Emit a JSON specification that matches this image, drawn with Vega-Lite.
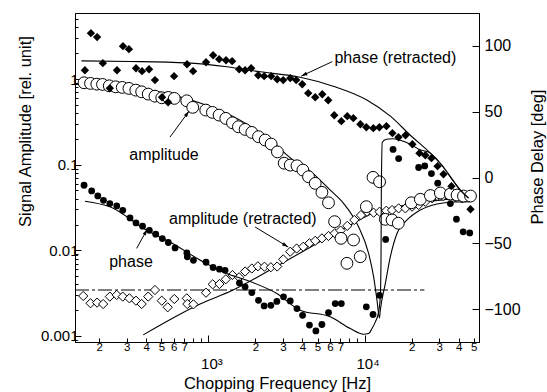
{
  "$schema": "https://vega.github.io/schema/vega-lite/v6.json",
  "width": 404,
  "height": 329,
  "autosize": {"type": "none"},
  "padding": {"left": 75, "top": 13, "right": 68, "bottom": 50},
  "background": "white",
  "config": {
    "font": "Liberation Sans",
    "view": {"stroke": "black", "strokeWidth": 1},
    "axis": {"labelFont": "Liberation Sans", "titleFont": "Liberation Sans", "grid": false, "domainColor": "black", "tickColor": "black", "labelColor": "black", "titleColor": "black", "titleFontWeight": "normal", "domainWidth": 1, "tickWidth": 1}
  },
  "datasets": {
    "phaseRet": [
      {"f":162,"deg":81.5},{"f":177,"deg":109.7},{"f":194,"deg":106.7},{"f":211,"deg":86.9},{"f":234,"deg":67.9},{"f":260,"deg":81.5},{"f":284,"deg":99.8},{"f":310,"deg":97.5},{"f":344,"deg":83.0},{"f":376,"deg":80.8},{"f":417,"deg":82.3},{"f":455,"deg":74.0},{"f":505,"deg":61.0},{"f":552,"deg":57.2},{"f":603,"deg":77.0},{"f":730,"deg":86.1},{"f":798,"deg":80.8},{"f":966,"deg":87.6},{"f":1072,"deg":92.9},{"f":1172,"deg":89.9},{"f":1297,"deg":89.1},{"f":1419,"deg":88.4},{"f":1574,"deg":82.3},{"f":1718,"deg":81.5},{"f":1879,"deg":83.0},{"f":2084,"deg":77.7},{"f":2275,"deg":77.0},{"f":2523,"deg":77.0},{"f":2757,"deg":74.7},{"f":3013,"deg":74.0},{"f":3342,"deg":75.5},{"f":3650,"deg":74.0},{"f":3990,"deg":70.9},{"f":4357,"deg":64.1},{"f":4830,"deg":61.0},{"f":5358,"deg":63.3},{"f":5848,"deg":58.7},{"f":6394,"deg":47.3},{"f":7096,"deg":42.8},{"f":7745,"deg":46.6},{"f":8472,"deg":45.1},{"f":9397,"deg":40.5},{"f":10260,"deg":38.2},{"f":11376,"deg":37.5},{"f":12434,"deg":38.2},{"f":13796,"deg":39.0},{"f":15070,"deg":33.7},{"f":16480,"deg":30.6},{"f":18280,"deg":32.1},{"f":20230,"deg":25.3},{"f":22440,"deg":18.5},{"f":24490,"deg":16.9},{"f":26790,"deg":14.7},{"f":29300,"deg":8.6},{"f":31990,"deg":2.5},{"f":35970,"deg":-6.6},{"f":47640,"deg":-24.1}
    ],
    "phase": [
      {"f":160,"deg":-5.9},{"f":179,"deg":-10.2},{"f":196,"deg":-14.0},{"f":213,"deg":-17.3},{"f":234,"deg":-19.8},{"f":259,"deg":-21.6},{"f":283,"deg":-24.9},{"f":315,"deg":-30.7},{"f":344,"deg":-34.5},{"f":379,"deg":-37.0},{"f":419,"deg":-40.1},{"f":460,"deg":-43.1},{"f":507,"deg":-46.4},{"f":554,"deg":-49.4},{"f":612,"deg":-53.5},{"f":728,"deg":-57.3},{"f":733,"deg":-60.3},{"f":802,"deg":-62.9},{"f":966,"deg":-64.4},{"f":1072,"deg":-68.4},{"f":1177,"deg":-69.7},{"f":1279,"deg":-70.5},{"f":1581,"deg":-80.1},{"f":1718,"deg":-83.1},{"f":1897,"deg":-87.4},{"f":2093,"deg":-93.3},{"f":2275,"deg":-97.6},{"f":2512,"deg":-97.1},{"f":2744,"deg":-94.2},{"f":3027,"deg":-90.7},{"f":3342,"deg":-93.8},{"f":3690,"deg":-99.6},{"f":4009,"deg":-104.7},{"f":4436,"deg":-112.1},{"f":4877,"deg":-116.6},{"f":5331,"deg":-111.7},{"f":5875,"deg":-102.6},{"f":6486,"deg":-95.8},{"f":7096,"deg":-95.8},{"f":10260,"deg":-98.3},{"f":11324,"deg":-104.1},{"f":12470,"deg":-89.5},{"f":13640,"deg":-47.1},{"f":15210,"deg":21.3},{"f":16520,"deg":14.4},{"f":22180,"deg":7.6},{"f":24260,"deg":8.8},{"f":26790,"deg":3.0},{"f":29380,"deg":-4.3},{"f":35400,"deg":-19.8},{"f":38720,"deg":-31.7},{"f":42760,"deg":-41.3},{"f":47100,"deg":-42.1}
    ],
    "amp": [
      {"f":160,"a":0.904},{"f":176,"a":0.889},{"f":193,"a":0.871},{"f":210,"a":0.865},{"f":232,"a":0.833},{"f":255,"a":0.811},{"f":281,"a":0.798},{"f":310,"a":0.777},{"f":343,"a":0.742},{"f":374,"a":0.709},{"f":412,"a":0.667},{"f":455,"a":0.631},{"f":503,"a":0.604},{"f":554,"a":0.610},{"f":605,"a":0.594},{"f":727,"a":0.557},{"f":794,"a":0.467},{"f":962,"a":0.434},{"f":1061,"a":0.408},{"f":1171,"a":0.379},{"f":1293,"a":0.347},{"f":1426,"a":0.308},{"f":1557,"a":0.277},{"f":1718,"a":0.258},{"f":1897,"a":0.238},{"f":2093,"a":0.212},{"f":2308,"a":0.194},{"f":2523,"a":0.174},{"f":2767,"a":0.141},{"f":3057,"a":0.104},{"f":3342,"a":0.0989},{"f":3690,"a":0.0971},{"f":4027,"a":0.0865},{"f":4375,"a":0.0723},{"f":4830,"a":0.0605},{"f":5331,"a":0.0475},{"f":5875,"a":0.0359},{"f":6427,"a":0.0216},{"f":7063,"a":0.0138},{"f":7709,"a":0.00705},{"f":8492,"a":0.0132},{"f":9379,"a":0.00842},{"f":10260,"a":0.0323},{"f":11324,"a":0.0711},{"f":12470,"a":0.0631},{"f":13580,"a":0.0230},{"f":14990,"a":0.0226},{"f":16440,"a":0.0207},{"f":19910,"a":0.0359},{"f":22750,"a":0.0394},{"f":26360,"a":0.0436},{"f":30550,"a":0.0467},{"f":35400,"a":0.0454},{"f":39080,"a":0.0442},{"f":42950,"a":0.0430},{"f":47640,"a":0.0430}
    ],
    "ampRet": [
      {"f":158,"a":0.00293},{"f":176,"a":0.00241},{"f":194,"a":0.00245},{"f":212,"a":0.00236},{"f":234,"a":0.00288},{"f":259,"a":0.00301},{"f":283,"a":0.00288},{"f":312,"a":0.00275},{"f":344,"a":0.00258},{"f":374,"a":0.00236},{"f":412,"a":0.00288},{"f":455,"a":0.00344},{"f":503,"a":0.00258},{"f":549,"a":0.00216},{"f":605,"a":0.00270},{"f":727,"a":0.00275},{"f":733,"a":0.00236},{"f":802,"a":0.00234},{"f":966,"a":0.00320},{"f":1066,"a":0.00401},{"f":1177,"a":0.00404},{"f":1293,"a":0.00459},{"f":1426,"a":0.00515},{"f":1573,"a":0.00484},{"f":1718,"a":0.00566},{"f":1897,"a":0.00613},{"f":2074,"a":0.00650},{"f":2285,"a":0.00644},{"f":2512,"a":0.00634},{"f":2757,"a":0.00647},{"f":3013,"a":0.00785},{"f":3342,"a":0.00963},{"f":3675,"a":0.0105},{"f":4046,"a":0.0110},{"f":4436,"a":0.0121},{"f":4830,"a":0.0129},{"f":5331,"a":0.0138},{"f":5875,"a":0.0147},{"f":6441,"a":0.0158},{"f":7015,"a":0.0170},{"f":7745,"a":0.0193},{"f":8590,"a":0.0226},{"f":9485,"a":0.0258},{"f":10360,"a":0.0282},{"f":11420,"a":0.0275},{"f":12470,"a":0.0282},{"f":13770,"a":0.0290},{"f":14990,"a":0.0295},{"f":16520,"a":0.0309},{"f":18240,"a":0.0309},{"f":20130,"a":0.0323},{"f":22180,"a":0.0338},{"f":24490,"a":0.0369},{"f":27040,"a":0.0405},{"f":29120,"a":0.0430},{"f":31840,"a":0.0430},{"f":34530,"a":0.0442},{"f":38110,"a":0.0415},{"f":42070,"a":0.0405},{"f":45500,"a":0.0420}
    ],
    "fitAmp": [
      {"f":155,"a":0.957},{"f":272,"a":0.861},{"f":490,"a":0.703},{"f":885,"a":0.524},{"f":1596,"a":0.331},{"f":2489,"a":0.194},{"f":3491,"a":0.113},{"f":4487,"a":0.0842},{"f":6026,"a":0.0505},{"f":7333,"a":0.0353},{"f":9152,"a":0.0188},{"f":10610,"a":0.00923},{"f":11420,"a":0.00492},{"f":12000,"a":0.00263},{"f":12450,"a":0.00162},{"f":12610,"a":0.0020},{"f":13580,"a":0.00412},{"f":14620,"a":0.00842},{"f":16140,"a":0.0158},{"f":18700,"a":0.0226},{"f":22750,"a":0.0295},{"f":29120,"a":0.0347},{"f":37240,"a":0.0366},{"f":47640,"a":0.0369}
    ],
    "fitAmpRet": [
      {"f":383,"a":0.00103},{"f":885,"a":0.00236},{"f":1440,"a":0.00344},{"f":3000,"a":0.00717},{"f":8091,"a":0.0197},{"f":11380,"a":0.0272},{"f":16940,"a":0.0329},{"f":22750,"a":0.0361},{"f":30550,"a":0.0385},{"f":49770,"a":0.0405}
    ],
    "fitPhaseRet": [
      {"f":154,"deg":88.6},{"f":315,"deg":88.2},{"f":727,"deg":87.1},{"f":1312,"deg":84.1},{"f":2145,"deg":80.3},{"f":3870,"deg":76.2},{"f":6295,"deg":69.4},{"f":10400,"deg":58.7},{"f":14620,"deg":46.6},{"f":19630,"deg":32.1},{"f":26360,"deg":18.5},{"f":31990,"deg":7.8},{"f":37070,"deg":-2.8},{"f":41040,"deg":-9.6},{"f":46240,"deg":-15.7}
    ],
    "fitPhase": [
      {"f":162,"deg":-18.0},{"f":234,"deg":-22.3},{"f":403,"deg":-40.1},{"f":568,"deg":-49.0},{"f":929,"deg":-64.2},{"f":1312,"deg":-73.0},{"f":1763,"deg":-78.1},{"f":2743,"deg":-88.2},{"f":3870,"deg":-100.9},{"f":6026,"deg":-105.9},{"f":8091,"deg":-114.8},{"f":9862,"deg":-119.1},{"f":10610,"deg":-118.6},{"f":11150,"deg":-114.8},{"f":11720,"deg":-109.7},{"f":12300,"deg":-102.1},{"f":12610,"deg":-90.7},{"f":12740,"deg":-60.3},{"f":12800,"deg":-9.7},{"f":12980,"deg":26.8},{"f":13780,"deg":29.1},{"f":15060,"deg":29.5},{"f":16940,"deg":28.3},{"f":19630,"deg":25.3},{"f":22180,"deg":21.5},{"f":26360,"deg":18.5},{"f":31990,"deg":7.8},{"f":37070,"deg":-2.8},{"f":41040,"deg":-9.6},{"f":46240,"deg":-15.7}
    ],
    "noise": [{"f":140,"f2":24150,"a":0.00344}],
    "labels": [
      {"f":15740,"a":1.754,"t":"phase (retracted)"},
      {"f":520,"a":0.1294,"t":"amplitude"},
      {"f":1662,"a":0.0232,"t":"amplitude (retracted)"},
      {"f":319.5,"a":0.00724,"t":"phase"}
    ],
    "arrows": [
      {"id":"amp","f":568,"a":0.210,"f2":752,"a2":0.422},
      {"id":"phr","f":6209,"a":1.596,"f2":3929,"a2":1.081},
      {"id":"ampr","f":1992,"a":0.0187,"f2":3243,"a2":0.01093},
      {"id":"ph","f":347.5,"a":0.01054,"f2":406,"a2":0.01758}
    ],
    "heads": [
      {"id":"amp","f":752,"a":0.422},
      {"id":"phr","f":3929,"a":1.081},
      {"id":"ampr","f":3243,"a":0.01093},
      {"id":"ph","f":406,"a":0.01758}
    ]
  },
  "encoding": {
    "x": {
      "field": "f", "type": "quantitative",
      "scale": {"type": "log", "domain": [140, 54000], "nice": false},
      "axis": {
        "title": "Chopping Frequency [Hz]",
        "values": [200,300,400,500,600,700,800,900,1000,2000,3000,4000,5000,6000,7000,8000,9000,10000,20000,30000,40000,50000],
        "labelExpr": "datum.value==1000 ? '10³' : datum.value==10000 ? '10⁴' : (indexof([200,300,400,500,600,700,2000,3000,4000,5000,6000,7000,20000,30000,40000,50000], datum.value) >= 0 ? format(datum.value/pow(10, floor(log(datum.value)/LN10 + 0.000001)), 'd') : '')",
        "tickSize": {"condition": {"test": "datum.value==1000 || datum.value==10000", "value": -7}, "value": -4},
        "labelFontSize": {"condition": {"test": "datum.value==1000 || datum.value==10000", "value": 15}, "value": 11.5},
        "labelPadding": {"condition": {"test": "datum.value==1000 || datum.value==10000", "value": 21}, "value": 3},
        "labelOffset": {"condition": {"test": "datum.value==1000 || datum.value==10000", "value": 3}, "value": 0},
        "labelOverlap": false,
        "labelFlush": false,
        "labelBound": false,
        "titleFontSize": 16.5,
        "titleY": 41,
        "titleBaseline": "middle"
      }
    }
  },
  "layer": [
    {
      "encoding": {
        "y": {
          "field": "a", "type": "quantitative",
          "scale": {"type": "log", "domain": [0.00085, 5.9], "nice": false},
          "axis": {
            "orient": "left",
            "title": "Signal Amplitude [rel. unit]",
            "values": [0.001,0.002,0.003,0.004,0.005,0.006,0.007,0.008,0.009,0.01,0.02,0.03,0.04,0.05,0.06,0.07,0.08,0.09,0.1,0.2,0.3,0.4,0.5,0.6,0.7,0.8,0.9,1,2,3,4,5],
            "labelExpr": "datum.value==1 ? '1' : datum.value==0.1 ? '0.1' : datum.value==0.01 ? '0.01' : datum.value==0.001 ? '0.001' : ''",
            "tickSize": {"condition": {"test": "datum.value==1 || datum.value==0.1 || datum.value==0.01 || datum.value==0.001", "value": -6}, "value": -3},
            "labelPadding": 3,
            "labelFontSize": 15,
            "labelOverlap": false,
            "labelFlush": false,
            "titleFontSize": 16.5,
            "titleAngle": 270,
            "titleX": -50,
            "titleY": 118,
            "titleAlign": "center",
            "titleBaseline": "middle"
          }
        }
      },
      "layer": [
        {"data": {"name": "fitAmp"}, "mark": {"type": "line", "color": "black", "strokeWidth": 1.1, "interpolate": "monotone"}},
        {"data": {"name": "fitAmpRet"}, "mark": {"type": "line", "color": "black", "strokeWidth": 1.1, "interpolate": "monotone"}},
        {"data": {"name": "noise"}, "mark": {"type": "rule", "color": "black", "strokeWidth": 1, "strokeDash": [14, 3, 3, 3]}, "encoding": {"x2": {"field": "f2"}}},
        {"data": {"name": "ampRet"}, "mark": {"type": "point", "shape": "diamond", "filled": true, "fill": "white", "stroke": "black", "strokeWidth": 1, "size": 85, "opacity": 1}},
        {"data": {"name": "amp"}, "mark": {"type": "point", "shape": "circle", "filled": true, "fill": "white", "stroke": "black", "strokeWidth": 1, "size": 140, "opacity": 1}},
        {"data": {"name": "labels"}, "mark": {"type": "text", "fontSize": 16, "color": "black", "baseline": "middle", "align": "center", "font": "Liberation Sans"}, "encoding": {"text": {"field": "t"}}},
        {"data": {"name": "arrows"}, "mark": {"type": "rule", "color": "black", "strokeWidth": 1}, "encoding": {"x2": {"field": "f2"}, "y2": {"field": "a2"}}},
        {"data": {"name": "heads"}, "transform": [{"filter": "datum.id == 'amp'"}], "mark": {"type": "point", "shape": "M0,0L-0.3,1L0.3,1Z", "filled": true, "color": "black", "size": 150, "opacity": 1, "angle": 36}},
        {"data": {"name": "heads"}, "transform": [{"filter": "datum.id == 'phr'"}], "mark": {"type": "point", "shape": "M0,0L-0.3,1L0.3,1Z", "filled": true, "color": "black", "size": 150, "opacity": 1, "angle": 245}},
        {"data": {"name": "heads"}, "transform": [{"filter": "datum.id == 'ampr'"}], "mark": {"type": "point", "shape": "M0,0L-0.3,1L0.3,1Z", "filled": true, "color": "black", "size": 150, "opacity": 1, "angle": 121}},
        {"data": {"name": "heads"}, "transform": [{"filter": "datum.id == 'ph'"}], "mark": {"type": "point", "shape": "M0,0L-0.3,1L0.3,1Z", "filled": true, "color": "black", "size": 150, "opacity": 1, "angle": 29}}
      ]
    },
    {
      "encoding": {
        "y": {
          "field": "deg", "type": "quantitative",
          "scale": {"domain": [-125, 125], "nice": false, "zero": false},
          "axis": {
            "orient": "right",
            "title": "Phase Delay [deg]",
            "values": [-100, -50, 0, 50, 100],
            "tickSize": -7,
            "labelPadding": 12,
            "labelFontSize": 16,
            "labelOverlap": false,
            "labelFlush": false,
            "titleFontSize": 16.5,
            "titleAngle": 270,
            "titleX": 58,
            "titleY": 143.5,
            "titleAlign": "center",
            "titleBaseline": "middle"
          }
        }
      },
      "layer": [
        {"data": {"name": "fitPhaseRet"}, "mark": {"type": "line", "color": "black", "strokeWidth": 1.1, "interpolate": "monotone"}},
        {"data": {"name": "fitPhase"}, "mark": {"type": "line", "color": "black", "strokeWidth": 1.1, "interpolate": "monotone"}},
        {"data": {"name": "phaseRet"}, "mark": {"type": "point", "shape": "diamond", "filled": true, "color": "black", "size": 70, "opacity": 1}},
        {"data": {"name": "phase"}, "mark": {"type": "point", "shape": "circle", "filled": true, "color": "black", "size": 46, "opacity": 1}}
      ]
    }
  ],
  "resolve": {"scale": {"y": "independent"}}
}
